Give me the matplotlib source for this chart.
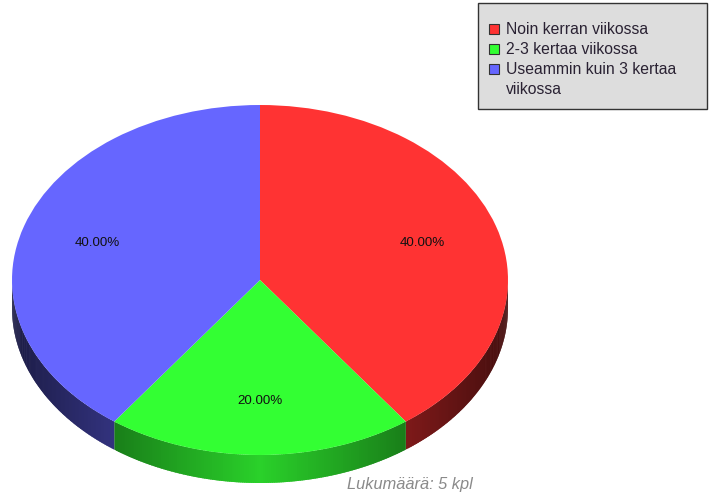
import matplotlib.pyplot as plt
import matplotlib.colors as mcolors
from matplotlib.patches import Polygon, Rectangle
import numpy as np

categories = ['Noin kerran viikossa', '2-3 kertaa viikossa',
              'Useammin kuin 3 kertaa\nviikossa']
counts = [2, 1, 2]
colors = ['#ff3333', '#33ff33', '#6666ff']
caption = 'Lukumäärä: 5 kpl'

W, H = 711, 499
fig = plt.figure(figsize=(W / 100, H / 100), dpi=100)

# top face spans x 12..508, y 105..455 px; side wall is 28 px deep
left, rx, top, hgt, depth = 12, 248, 105, 350, 28
ax = fig.add_axes([left / W, (H - top - hgt - depth) / H, 2 * rx / W, (hgt + depth) / H])
d = depth / (hgt / 2)

wedges, _, autotexts = ax.pie(counts, colors=colors, startangle=90, counterclock=False,
                              autopct='%.2f%%', pctdistance=0.69,
                              wedgeprops=dict(linewidth=0),
                              textprops=dict(fontsize=9.6, family='Liberation Sans', color='#111111'))
ax.set_aspect('auto')
ax.set_xlim(-1, 1)
ax.set_ylim(-1 - d, 1)
ax.axis('off')

# side walls, shaded darker towards the left/right edges
fracs = np.array(counts) / sum(counts)
angles = 90 - 360 * np.concatenate([[0], np.cumsum(fracs)])
for i in range(len(counts)):
    lo, hi = max(angles[i + 1], -180), min(angles[i], 0)
    if lo >= hi:
        continue
    th = np.radians(np.linspace(lo, hi, int((hi - lo) * 2) + 2))
    step = th[1] - th[0]
    base = np.array(mcolors.to_rgb(colors[i]))
    for t0, t1 in zip(th[:-1], th[1:]):
        t2 = min(t1 + step * 0.8, th[-1])
        xs, ys = np.cos([t0, t2]), np.sin([t0, t2])
        u = abs(np.cos((t0 + t1) / 2))
        c = np.clip(base * (0.82 - 0.55 * u), 0, 1)
        ax.add_patch(Polygon([(xs[0], ys[0]), (xs[1], ys[1]), (xs[1], ys[1] - d), (xs[0], ys[0] - d)],
                             closed=True, fc=c, lw=0, zorder=0))

# overlay in pixel coordinates for legend and caption
ov = fig.add_axes([0, 0, 1, 1], zorder=5)
ov.set_xlim(0, W)
ov.set_ylim(H, 0)
ov.axis('off')

ov.add_patch(Rectangle((477.5, 2.5), 229, 106, fc='#dddddd', ec='#333333', lw=1))
y = 29
for lab, col in zip(categories, colors):
    ov.add_patch(Rectangle((488.5, y - 5.5), 10, 10, fc=col, ec='#333333', lw=0.8))
    ov.text(506, y, lab.split('\n')[0], fontsize=11.3, family='Liberation Sans',
            color='#2a2233', va='center', ha='left')
    for extra in lab.split('\n')[1:]:
        y += 20
        ov.text(506, y, extra, fontsize=11.3, family='Liberation Sans',
                color='#2a2233', va='center', ha='left')
    y += 20

ov.text(410, 484, caption, fontsize=11.8, family='Liberation Sans', style='italic',
        color='#8a8a8a', ha='center', va='center')

fig.savefig('out.png', dpi=100)
